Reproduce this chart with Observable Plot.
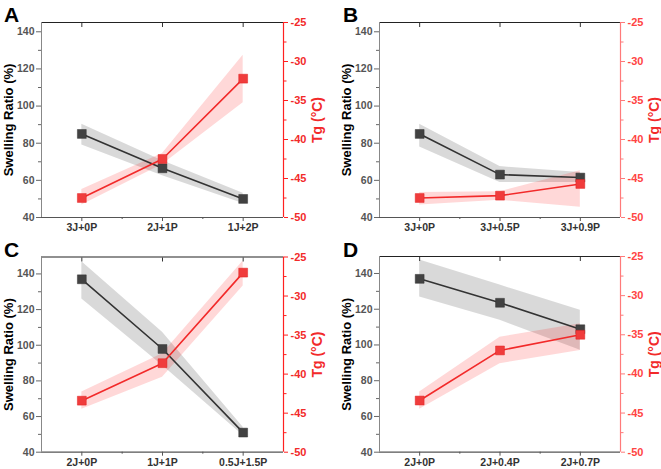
<!DOCTYPE html>
<html><head><meta charset="utf-8">
<script src="https://cdn.jsdelivr.net/npm/d3@7"></script>
<script src="https://cdn.jsdelivr.net/npm/@observablehq/plot@0.6"></script>
<style>
body{margin:0;background:#fff;}
#fig{position:relative;width:661px;height:469px;font-family:"Liberation Sans",Arial,sans-serif;overflow:hidden;}
.panel{position:absolute;}
.panel svg{overflow:visible;}
.lbl{position:absolute;font-weight:bold;font-size:21px;line-height:21px;color:#000;font-family:"Liberation Sans",Arial,sans-serif;}
</style></head><body><div id="fig"></div>
<script>
// ---- Data ----
const catsA = ["3J+0P", "2J+1P", "1J+2P"];
const swellA = [85, 66.5, 50];
const swellLoA = [79, 62.5, 47.5];
const swellHiA = [90.2, 70.5, 53];
const tgA = [-47.5, -42.5, -32.2];
const tgLoA = [-48.4, -43.2, -35.3];
const tgHiA = [-46.4, -41.8, -29.2];

const catsB = ["3J+0P", "3J+0.5P", "3J+0.9P"];
const swellB = [85, 63.1, 61.5];
const swellLoB = [78, 58.8, 58.8];
const swellHiB = [90.2, 67.4, 64.2];
const tgB = [-47.5, -47.2, -45.7];
const tgLoB = [-48.4, -47.8, -48.7];
const tgHiB = [-46.8, -46.7, -44];

const catsC = ["2J+0P", "1J+1P", "0.5J+1.5P"];
const swellC = [137, 97.9, 51];
const swellLoC = [126, 88.6, 49.3];
const swellHiC = [146.9, 107.3, 54];
const tgC = [-43.4, -38.6, -27.0];
const tgLoC = [-44.5, -40.4, -28.7];
const tgHiC = [-42.3, -37.4, -25.5];

const catsD = ["2J+0P", "2J+0.4P", "2J+0.7P"];
const swellD = [137, 123.6, 108.8];
const swellLoD = [126.9, 113.8, 97];
const swellHiD = [147.5, 133.5, 119.4];
const tgD = [-43.4, -37.0, -35.0];
const tgLoD = [-44.5, -38.7, -37.0];
const tgHiD = [-42.3, -35.3, -33.6];

const swellTicks = [40, 60, 80, 100, 120, 140];
const swellMinor = [50, 70, 90, 110, 130];
const tgTicks = [-50, -45, -40, -35, -30, -25];
const tgMinor = [-47.5, -42.5, -37.5, -32.5, -27.5];
const tgDomain = [-50, -25];
const panelLetters = ["A", "B", "C", "D"];

// ---- Drawing ----
const RED = "#f22a2a";
function panel(cfg) {
  const {cats, sw, swLo, swHi, tg, tgLo, tgHi, ymax, w, h, ml, mr, mt, mb, axisRed, axisRedText} = cfg;
  const [t0, t1] = tgDomain;
  const toY = t => 40 + (t - t0) / (t1 - t0) * (ymax - 40);
  const fromY = v => t0 + (v - 40) / (ymax - 40) * (t1 - t0);
  const rows = cats.map((c, i) => ({
    i, sw: sw[i], lo: swLo[i], hi: swHi[i],
    tg: toY(tg[i]), tlo: toY(tgLo[i]), thi: toY(tgHi[i])
  }));
  const idx = cats.map((c, i) => i);
  const mids = idx.slice(1).map(i => i - 0.5);
  const n = cats.length;
  return Plot.plot({
    width: w, height: h,
    marginLeft: ml, marginRight: mr, marginTop: mt, marginBottom: mb,
    x: {domain: [-0.5, n - 0.5]},
    y: {domain: [40, ymax]},
    style: {fontFamily: '"Liberation Sans", Arial, sans-serif', fontWeight: "bold", background: "transparent"},
    marks: [
      Plot.areaY(rows, {x: "i", y1: "lo", y2: "hi", fill: "#000", fillOpacity: 0.15}),
      Plot.areaY(rows, {x: "i", y1: "tlo", y2: "thi", fill: "#ff1a1a", fillOpacity: 0.17}),
      Plot.line(rows, {x: "i", y: "sw", stroke: "#333", strokeWidth: 1.6}),
      Plot.dot(rows, {x: "i", y: "sw", symbol: "square", r: 5, fill: "#424242", stroke: "#333", strokeWidth: 0.5}),
      Plot.line(rows, {x: "i", y: "tg", stroke: RED, strokeWidth: 1.6}),
      Plot.dot(rows, {x: "i", y: "tg", symbol: "square", r: 5, fill: "#f03c3c", stroke: "#e02020", strokeWidth: 0.5}),
      // frame
      Plot.ruleY([ymax], {stroke: "#222", strokeWidth: 1.2}),
      Plot.ruleY([40], {stroke: "#555", strokeWidth: 1.2}),
      Plot.ruleX([-0.5], {stroke: "#888", strokeWidth: 1}),
      Plot.ruleX([n - 0.5], {stroke: axisRed, strokeWidth: 1.2}),
      // left axis
      Plot.axisY(swellTicks.filter(v => v <= ymax), {anchor: "left", tickSize: 5, tickPadding: 2, fontSize: 10.5, fill: "#555", stroke: "#666", label: null}),
      Plot.axisY(swellMinor.filter(v => v <= ymax), {anchor: "left", tickSize: 3, tickFormat: () => "", stroke: "#666", label: null}),
      // right axis
      Plot.axisY(tgTicks.map(toY), {anchor: "right", tickSize: 4, tickPadding: 3, fontSize: 11, fill: axisRedText, stroke: axisRed, label: null, tickFormat: v => String(Math.round(fromY(v)))}),
      Plot.axisY(tgMinor.map(toY), {anchor: "right", tickSize: 2.5, stroke: axisRed, label: null, tickFormat: () => ""}),
      // bottom axis
      Plot.axisX(idx, {anchor: "bottom", tickSize: 4, tickPadding: 2, fontSize: 10.5, fill: "#333", stroke: "#555", label: null, tickFormat: i => cats[i]}),
      Plot.axisX(mids, {anchor: "bottom", tickSize: 2, stroke: "#555", label: null, tickFormat: () => ""}),
      // top ticks (inward)
      Plot.axisX(idx, {anchor: "top", tickSize: -4, stroke: "#333", label: null, tickFormat: () => ""}),
      // axis titles
      Plot.text(["Swelling Ratio (%)"], {frameAnchor: "left", textAnchor: "middle", rotate: -90, dx: -33, fontSize: 13, fontWeight: "bold", fill: "#000"}),
      Plot.text(["Tg (°C)"], {frameAnchor: "right", textAnchor: "middle", rotate: -90, dx: 34, fontSize: 14, fontWeight: "bold", fill: RED})
    ]
  });
}

const fig = document.getElementById("fig");
const specs = [
  {cats: catsA, sw: swellA, swLo: swellLoA, swHi: swellHiA, tg: tgA, tgLo: tgLoA, tgHi: tgHiA, ymax: 145,
   left: 0, top: 0, w: 330, h: 235, ml: 41, mr: 47, mt: 22, mb: 18, axisRed: "#ff2020", axisRedText: "#f22a2a", lx: 4, ly: 4},
  {cats: catsB, sw: swellB, swLo: swellLoB, swHi: swellHiB, tg: tgB, tgLo: tgLoB, tgHi: tgHiB, ymax: 145,
   left: 330, top: 0, w: 331, h: 235, ml: 49, mr: 41, mt: 22, mb: 18, axisRed: "#ff7a7a", axisRedText: "#f44", lx: 343, ly: 4},
  {cats: catsC, sw: swellC, swLo: swellLoC, swHi: swellHiC, tg: tgC, tgLo: tgLoC, tgHi: tgHiC, ymax: 149.5,
   left: 0, top: 235, w: 330, h: 234, ml: 41, mr: 47, mt: 21.5, mb: 17.3, axisRed: "#ff2020", axisRedText: "#f22a2a", lx: 4, ly: 239},
  {cats: catsD, sw: swellD, swLo: swellLoD, swHi: swellHiD, tg: tgD, tgLo: tgLoD, tgHi: tgHiD, ymax: 149.5,
   left: 330, top: 235, w: 331, h: 234, ml: 49, mr: 41, mt: 21, mb: 17.3, axisRed: "#ff7a7a", axisRedText: "#f44", lx: 343, ly: 239}
];
specs.forEach((s, k) => {
  const div = document.createElement("div");
  div.className = "panel";
  div.style.left = s.left + "px";
  div.style.top = s.top + "px";
  div.appendChild(panel(s));
  fig.appendChild(div);
  const l = document.createElement("div");
  l.className = "lbl";
  l.style.left = s.lx + "px";
  l.style.top = s.ly + "px";
  l.textContent = panelLetters[k];
  fig.appendChild(l);
});
</script>
</body></html>
